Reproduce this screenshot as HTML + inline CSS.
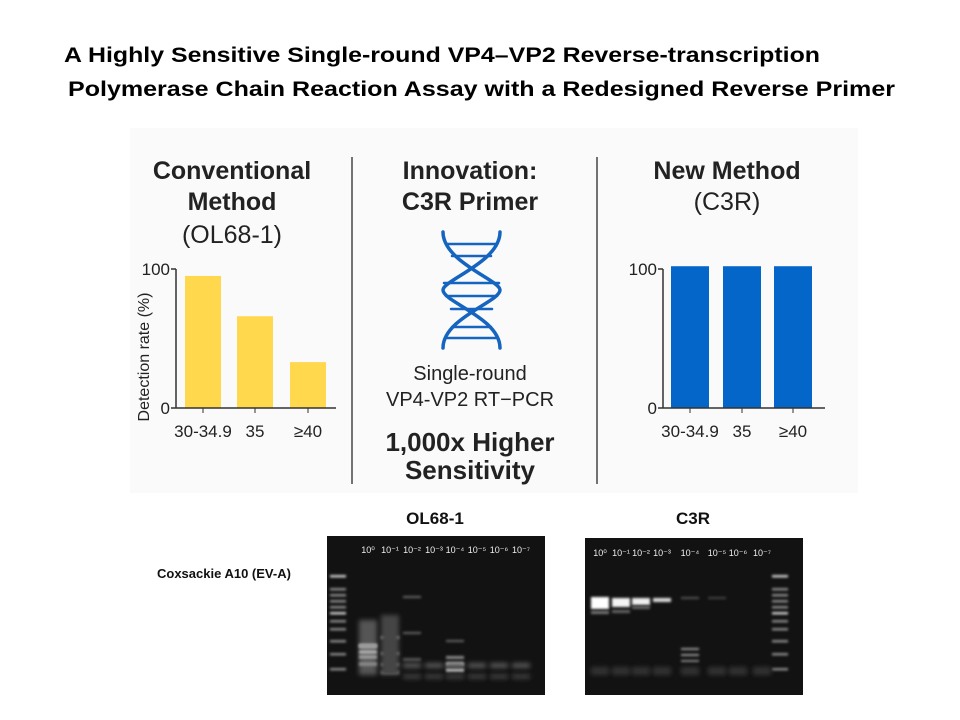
<!DOCTYPE html>
<html><head><meta charset="utf-8"><style>
html,body{margin:0;padding:0;background:#fff;}
svg{display:block;font-family:"Liberation Sans",sans-serif;}
</style></head><body>
<svg id="root" width="960" height="720" viewBox="0 0 960 720">
<defs>
<filter id="blur1" x="-50%" y="-200%" width="200%" height="500%"><feGaussianBlur stdDeviation="1.2"/></filter>
<filter id="blur2" x="-50%" y="-200%" width="200%" height="500%"><feGaussianBlur stdDeviation="2.5"/></filter>
</defs>
<g font-weight="bold" fill="#000" font-size="21">
<text x="64" y="62" textLength="756" lengthAdjust="spacingAndGlyphs">A Highly Sensitive Single-round VP4–VP2 Reverse-transcription</text>
<text x="68" y="96" textLength="827" lengthAdjust="spacingAndGlyphs">Polymerase Chain Reaction Assay with a Redesigned Reverse Primer</text>
</g>
<rect x="130" y="128" width="728" height="365" fill="#fafafa"/>
<line x1="352" y1="157" x2="352" y2="484" stroke="#444" stroke-width="1.5"/>
<line x1="597" y1="157" x2="597" y2="484" stroke="#444" stroke-width="1.5"/>
<g font-weight="bold" fill="#222" font-size="25" text-anchor="middle">
<text x="232" y="179">Conventional</text>
<text x="232" y="210">Method</text>
<text x="232" y="243" font-weight="normal">(OL68-1)</text>
<text x="470" y="179">Innovation:</text>
<text x="470" y="210">C3R Primer</text>
<text x="727" y="179">New Method</text>
<text x="727" y="210" font-weight="normal">(C3R)</text>
</g>
<g stroke="#1565c0" stroke-width="3.5" fill="none" stroke-linecap="round">
<path d="M443 232 C443 262 500 280 500 290 C500 302 443 318 443 348"/>
<path d="M500 232 C500 262 443 280 443 290 C443 302 500 318 500 348"/>
<g stroke-width="2.5">
<line x1="446" y1="244" x2="497" y2="244"/><line x1="452" y1="256" x2="491" y2="256"/>
<line x1="446" y1="296" x2="497" y2="296"/><line x1="444" y1="283" x2="499" y2="283"/><line x1="451" y1="309" x2="492" y2="309"/>
<line x1="452" y1="327" x2="491" y2="327"/><line x1="446" y1="338" x2="497" y2="338"/>
</g></g>
<g text-anchor="middle" fill="#222">
<text x="470" y="380" font-size="20">Single-round</text>
<text x="470" y="406" font-size="20">VP4-VP2 RT−PCR</text>
<text x="470" y="451" font-size="26" font-weight="bold">1,000x Higher</text>
<text x="470" y="479" font-size="26" font-weight="bold">Sensitivity</text>
</g>
<g id="chartL"></g>
<g id="chartR"></g>
<text transform="translate(149,357) rotate(-90)" text-anchor="middle" font-size="16" fill="#222">Detection rate (%)</text>
<g font-weight="bold" font-size="17" text-anchor="middle" fill="#111">
<text x="435" y="524">OL68-1</text>
<text x="693" y="524">C3R</text>
</g>
<text x="157" y="578" font-size="13" font-weight="bold" fill="#111">Coxsackie A10 (EV-A)</text>
<g id="gelL"></g>
<g id="gelR"></g>
</svg>
<script>
const categories = ["30-34.9", "35", "≥40"];
const conventionalValues = [95, 66, 33];
const c3rValues = [102, 102, 102];
const yTicks = [0, 100];
const NS = "http://www.w3.org/2000/svg";
function mk(tag, attrs, parent){const e=document.createElementNS(NS,tag);for(const k in attrs)e.setAttribute(k,attrs[k]);parent.appendChild(e);return e;}
function drawChart(g, axisX, values, color, barStarts, barW, axisEnd){
  const y0=408, y100=269;
  const yS=v=>y0-(v/100)*(y0-y100);
  values.forEach((v,i)=>{
    const r=mk('rect',{x:barStarts[i],y:yS(v),width:barW,height:y0-yS(v),fill:color},g);
    
    
    const cx=barStarts[i]+barW/2;
    mk('line',{x1:cx,y1:y0,x2:cx,y2:y0+5,stroke:'#333','stroke-width':1},g);
    const t=mk('text',{x:cx,y:y0+29,'text-anchor':'middle','font-size':'17',fill:'#222'},g);
    t.textContent=categories[i];
    
    
  });
  mk('line',{x1:axisX,y1:y100,x2:axisX,y2:y0,stroke:'#333','stroke-width':1.5},g);
  mk('line',{x1:axisX,y1:y0,x2:axisEnd,y2:y0,stroke:'#333','stroke-width':1.5},g);
  yTicks.forEach(v=>{
    mk('line',{x1:axisX-5,y1:yS(v),x2:axisX,y2:yS(v),stroke:'#333','stroke-width':1.5},g);
    const t=mk('text',{x:axisX-6,y:yS(v)+6,'text-anchor':'end','font-size':'17',fill:'#222'},g);
    t.textContent=String(v);
    
    
  });
}
drawChart(document.getElementById('chartL'),176,conventionalValues,'#ffd84d',[185,237,290],36,336);
drawChart(document.getElementById('chartR'),663,c3rValues,'#0466c8',[671,723,774],38,825);

function drawGel(g,x,y,w,h,lanes,labelY,ladders,bands){
  mk('rect',{x:x,y:y,width:w,height:h,fill:'#121212'},g);
  ['10⁰','10⁻¹','10⁻²','10⁻³','10⁻⁴','10⁻⁵','10⁻⁶','10⁻⁷'].forEach((s,i)=>{
    const t=mk('text',{x:lanes[i],y:labelY,'text-anchor':'middle','font-size':'9',fill:'#eee'},g);
    t.textContent=s;
    
    
  });
  ladders.forEach(lx=>{
    [575,588,594,600,606,612,620,628,640,653,668].forEach((by,k)=>{
      mk('rect',{x:lx-8,y:by,width:16,height:2.5,fill:k==0||k==5?'#ccc':'#888',filter:'url(#blur1)'},g);
    });
  });
  bands.forEach(b=>{
    mk('rect',{x:b[0]-9,y:b[1],width:18,height:b[2],fill:b[3],filter:b[4]?'url(#blur2)':'url(#blur1)'},g);
  });
}
const L=[368,390,412,434,455,477,499,521];
const bandsL=[
 [L[0],620,55,'#555',1],[L[0],644,4,'#aaa'],[L[0],650,4,'#aaa'],[L[0],655,4,'#999'],[L[0],662,4,'#888'],[L[0],644,4,'#999'],
 [L[1],636,3,'#bbb'],[L[1],652,3,'#aaa'],[L[1],663,3,'#999'],[L[1],671,3,'#888'],[L[1],615,60,'#444',1],
 [L[2],632,2,'#666'],[L[2],596,2,'#666'],[L[2],658,3,'#555'],
 [L[4],656,3,'#888'],[L[4],662,4,'#ccc'],[L[4],668,4,'#bbb'],[L[4],640,2,'#666']
];
for(let i=2;i<8;i++){bandsL.push([L[i],663,5,'#555',1]);bandsL.push([L[i],674,5,'#3a3a3a',1]);}
drawGel(document.getElementById('gelL'),327,536,218,159,L,553,[338],bandsL);
const R=[600,621,641,662,690,717,738,762];
const bandsR=[
 [R[0],597,12,'#fff'],[R[1],598,9,'#f4f4f4'],[R[2],598,7,'#eee'],[R[3],598,4,'#ddd'],
 [R[4],597,2,'#555'],[R[5],597,2,'#444'],[R[0],611,3,'#777'],[R[1],610,3,'#666'],[R[2],606,3,'#666'],
 [R[4],648,2,'#999'],[R[4],654,2,'#999'],[R[4],660,2,'#888']
];
for(let i=0;i<8;i++){bandsR.push([R[i],667,8,'#333',1]);}
drawGel(document.getElementById('gelR'),585,538,218,157,R,556,[780],bandsR);
</script>
</body></html>
